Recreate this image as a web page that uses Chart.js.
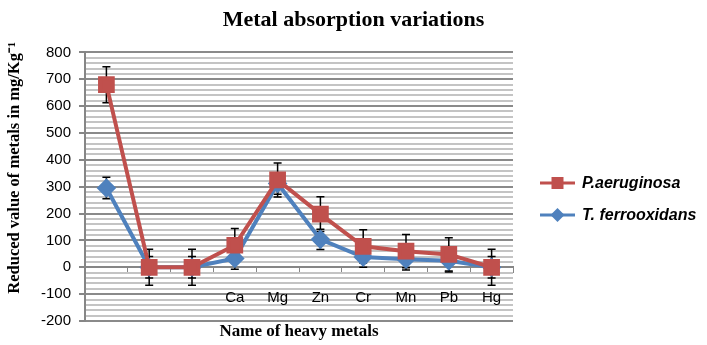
<!DOCTYPE html>
<html>
<head>
<meta charset="utf-8">
<script src="https://cdn.jsdelivr.net/npm/chart.js@4/dist/chart.umd.min.js"></script>
<style>
  html, body { margin: 0; padding: 0; background: #fff; }
  #wrap { width: 707px; height: 345px; }
</style>
</head>
<body>
<div id="wrap"><canvas id="chart"></canvas></div>
<script>
// categories (first three have no label in the original)
var metals = ["", "", "", "Ca", "Mg", "Zn", "Cr", "Mn", "Pb", "Hg"];

// P.aeruginosa
var aeruginosa = [680, 0, 0, 82, 325, 198, 78, 60, 48, 0];
var aeruginosaErr = [67, 67, 67, 62, 63, 65, 62, 62, 62, 67];

// T. ferrooxidans
var ferrooxidans = [295, 0, 0, 33, 312, 104, 38, 30, 24, 0];
var ferrooxidansErr = [40, 40, 40, 40, 40, 38, 38, 40, 42, 40];

var yTicks = { min: -200, max: 800, major: 100, minor: 20 };

var xTitleText = "Name of heavy metals";
var yTitleText = "Reduced value of metals in mg/Kg\u207B\u00B9";

var red = "#C0504D";
var blue = "#4F81BD";
var serif = "'Liberation Serif', 'Times New Roman', serif";
var sans = "'Liberation Sans', Arial, sans-serif";

function drawMarker(ctx, style, x, y, color)
{
    ctx.fillStyle = color;
    ctx.beginPath();
    if (style == "rect")
    {
        ctx.rect(x - 6, y - 6, 12, 12);
    }
    else
    {
        ctx.moveTo(x, y - 7);
        ctx.lineTo(x + 7, y);
        ctx.lineTo(x, y + 7);
        ctx.lineTo(x - 7, y);
        ctx.closePath();
    }
    ctx.fill();
}

var errorBars = {
    id: "errorBars",
    beforeDatasetsDraw: function(chart)
    {
        var ctx = chart.ctx;
        var yScale = chart.scales.y;
        ctx.save();
        ctx.strokeStyle = "#000";
        ctx.lineWidth = 1.5;
        chart.data.datasets.forEach(function(ds, di) {
            var meta = chart.getDatasetMeta(di);
            meta.data.forEach(function(pt, i) {
                var v = ds.data[i];
                var e = ds.errors[i];
                var x = pt.x;
                var top = yScale.getPixelForValue(v + e);
                var bot = yScale.getPixelForValue(v - e);
                ctx.beginPath();
                ctx.moveTo(x, top);
                ctx.lineTo(x, bot);
                ctx.moveTo(x - 4, top);
                ctx.lineTo(x + 4, top);
                ctx.moveTo(x - 4, bot);
                ctx.lineTo(x + 4, bot);
                ctx.stroke();
            });
        });
        ctx.restore();
    }
};

// axis titles and the line+marker legend, placed like the original
var extras = {
    id: "extras",
    afterDraw: function(chart)
    {
        var ctx = chart.ctx;
        var area = chart.chartArea;
        ctx.save();
        ctx.fillStyle = "#000";
        ctx.textAlign = "center";
        ctx.textBaseline = "middle";
        ctx.font = "bold 17px " + serif;
        ctx.fillText(xTitleText, (area.left + area.right) / 2, area.bottom + 11);

        ctx.save();
        ctx.font = "bold 16.5px " + serif;
        ctx.translate(15, area.top + (area.bottom - area.top) * 0.43);
        ctx.rotate(-Math.PI / 2);
        ctx.fillText(yTitleText, 0, 0);
        ctx.restore();

        // legend
        var lx = area.right + 27;
        var ly = 183;
        ctx.textAlign = "left";
        ctx.font = "italic bold 16px " + sans;
        chart.data.datasets.forEach(function(ds, i) {
            var y = ly + i * 32;
            ctx.strokeStyle = ds.borderColor;
            ctx.lineWidth = 3;
            ctx.beginPath();
            ctx.moveTo(lx, y);
            ctx.lineTo(lx + 35, y);
            ctx.stroke();
            drawMarker(ctx, ds.pointStyle, lx + 17.5, y, ds.borderColor);
            ctx.fillStyle = "#000";
            ctx.fillText(ds.label, lx + 42, y + 1);
        });
        ctx.restore();
    }
};

var ctx = document.getElementById("chart").getContext("2d");
var chart = new Chart(ctx, {
    type: "line",
    data: {
        labels: metals,
        datasets: [{
            label: "P.aeruginosa",
            data: aeruginosa,
            errors: aeruginosaErr,
            borderColor: red,
            backgroundColor: red,
            pointBackgroundColor: red,
            pointBorderColor: red,
            pointStyle: "rect",
            pointRadius: 9,
            pointHoverRadius: 9,
            borderWidth: 4,
            tension: 0
        }, {
            label: "T. ferrooxidans",
            data: ferrooxidans,
            errors: ferrooxidansErr,
            borderColor: blue,
            backgroundColor: blue,
            pointBackgroundColor: blue,
            pointBorderColor: blue,
            pointStyle: "rectRot",
            pointRadius: 7,
            pointHoverRadius: 7,
            borderWidth: 4,
            tension: 0
        }]
    },
    options: {
        responsive: true,
        maintainAspectRatio: false,
        animation: false,
        events: [],
        layout: {
            padding: { left: 0, right: 0, bottom: 24, top: 0 }
        },
        plugins: {
            title: {
                display: true,
                text: "Metal absorption variations",
                color: "#000",
                font: { family: serif, size: 22, weight: "bold" },
                padding: { top: 7, bottom: 19 }
            },
            legend: { display: false },
            tooltip: { enabled: false }
        },
        scales: {
            x: {
                position: { y: 0 },
                offset: true,
                grid: {
                    offset: true,
                    drawOnChartArea: false,
                    drawTicks: true,
                    tickLength: 5,
                    tickColor: "#868686"
                },
                border: { color: "#868686", width: 2 },
                ticks: {
                    color: "#000",
                    padding: 17,
                    autoSkip: false,
                    maxRotation: 0,
                    font: { family: sans, size: 15 }
                }
            },
            y: {
                min: yTicks.min,
                max: yTicks.max,
                afterFit: function(scale) { scale.width = 85; },
                grid: {
                    color: function(c) {
                        return c.tick && c.tick.value % yTicks.major == 0 ? "#8a8a8a" : "#c4c4c4";
                    },
                    lineWidth: 2,
                    tickLength: 6,
                    tickColor: function(c) {
                        return c.tick && c.tick.value % yTicks.major == 0 ? "#868686" : "rgba(0,0,0,0)";
                    }
                },
                border: { color: "#868686", width: 2 },
                ticks: {
                    stepSize: yTicks.minor,
                    autoSkip: false,
                    color: "#000",
                    padding: 8,
                    font: { family: sans, size: 15 },
                    callback: function(value) {
                        return value % yTicks.major == 0 ? value : "";
                    }
                }
            },
            // empty axis that only keeps room for the legend on the right
            legendSpace: {
                type: "linear",
                position: "right",
                display: true,
                afterFit: function(scale) { scale.width = 194; },
                grid: { display: false },
                border: { display: false },
                ticks: { display: false }
            }
        }
    },
    plugins: [errorBars, extras]
});
</script>
</body>
</html>
